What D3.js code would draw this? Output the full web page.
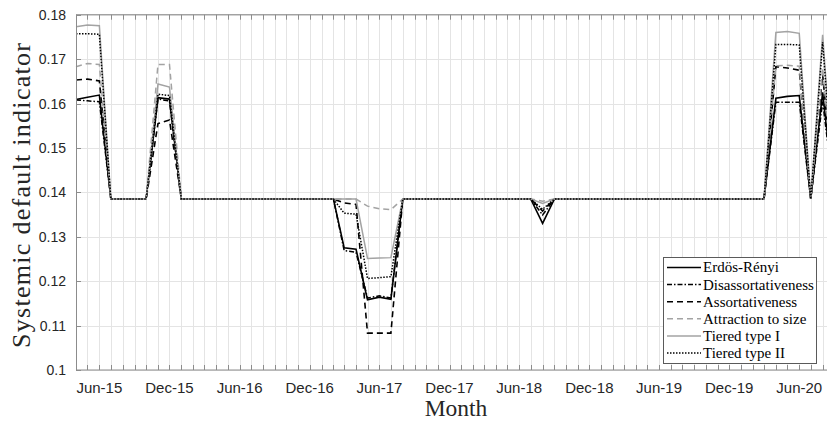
<!DOCTYPE html>
<html>
<head>
<meta charset="utf-8">
<script src="https://cdn.jsdelivr.net/npm/d3@7"></script>
<style>
  body { margin: 0; background: #fff; }
  svg { display: block; }
</style>
</head>
<body>
<svg id="chart" width="827" height="421"></svg>
<script>
// Monthly observation dates (first day of each month)
const months = [
  "2015-04","2015-05","2015-06","2015-07","2015-08","2015-09","2015-10","2015-11","2015-12",
  "2016-01","2016-02","2016-03","2016-04","2016-05","2016-06","2016-07","2016-08","2016-09","2016-10","2016-11","2016-12",
  "2017-01","2017-02","2017-03","2017-04","2017-05","2017-06","2017-07","2017-08","2017-09","2017-10","2017-11","2017-12",
  "2018-01","2018-02","2018-03","2018-04","2018-05","2018-06","2018-07","2018-08","2018-09","2018-10","2018-11","2018-12",
  "2019-01","2019-02","2019-03","2019-04","2019-05","2019-06","2019-07","2019-08","2019-09","2019-10","2019-11","2019-12",
  "2020-01","2020-02","2020-03","2020-04","2020-05","2020-06","2020-07","2020-08","2020-09"
];

// Systemic default indicator per network topology
const erdosRenyi = [
  0.1609,0.1614,0.1619,0.1385,0.1385,0.1385,0.1385,0.1613,0.1610,
  0.1385,0.1385,0.1385,0.1385,0.1385,0.1385,0.1385,0.1385,0.1385,0.1385,0.1385,0.1385,
  0.1385,0.1385,0.1275,0.1272,0.1158,0.1164,0.1159,0.1385,0.1385,0.1385,0.1385,0.1385,
  0.1385,0.1385,0.1385,0.1385,0.1385,0.1385,0.1385,0.1330,0.1385,0.1385,0.1385,0.1385,
  0.1385,0.1385,0.1385,0.1385,0.1385,0.1385,0.1385,0.1385,0.1385,0.1385,0.1385,0.1385,
  0.1385,0.1385,0.1385,0.1612,0.1616,0.1618,0.1385,0.1625,0.1385
];
const disassortativeness = [
  0.1608,0.1606,0.1604,0.1385,0.1385,0.1385,0.1385,0.1610,0.1606,
  0.1385,0.1385,0.1385,0.1385,0.1385,0.1385,0.1385,0.1385,0.1385,0.1385,0.1385,0.1385,
  0.1385,0.1385,0.1269,0.1265,0.1162,0.1167,0.1162,0.1385,0.1385,0.1385,0.1385,0.1385,
  0.1385,0.1385,0.1385,0.1385,0.1385,0.1385,0.1385,0.1349,0.1385,0.1385,0.1385,0.1385,
  0.1385,0.1385,0.1385,0.1385,0.1385,0.1385,0.1385,0.1385,0.1385,0.1385,0.1385,0.1385,
  0.1385,0.1385,0.1385,0.1603,0.1603,0.1603,0.1385,0.1605,0.1385
];
const assortativeness = [
  0.1653,0.1655,0.1651,0.1385,0.1385,0.1385,0.1385,0.1555,0.1563,
  0.1385,0.1385,0.1385,0.1385,0.1385,0.1385,0.1385,0.1385,0.1385,0.1385,0.1385,0.1385,
  0.1385,0.1385,0.1376,0.1373,0.1083,0.1083,0.1083,0.1385,0.1385,0.1385,0.1385,0.1385,
  0.1385,0.1385,0.1385,0.1385,0.1385,0.1385,0.1385,0.1358,0.1385,0.1385,0.1385,0.1385,
  0.1385,0.1385,0.1385,0.1385,0.1385,0.1385,0.1385,0.1385,0.1385,0.1385,0.1385,0.1385,
  0.1385,0.1385,0.1385,0.1683,0.1680,0.1675,0.1385,0.1665,0.1385
];
const attractionToSize = [
  0.1683,0.1690,0.1688,0.1385,0.1385,0.1385,0.1385,0.1688,0.1688,
  0.1385,0.1385,0.1385,0.1385,0.1385,0.1385,0.1385,0.1385,0.1385,0.1385,0.1385,0.1385,
  0.1385,0.1385,0.1385,0.1385,0.1369,0.1363,0.1361,0.1385,0.1385,0.1385,0.1385,0.1385,
  0.1385,0.1385,0.1385,0.1385,0.1385,0.1385,0.1385,0.1380,0.1385,0.1385,0.1385,0.1385,
  0.1385,0.1385,0.1385,0.1385,0.1385,0.1385,0.1385,0.1385,0.1385,0.1385,0.1385,0.1385,
  0.1385,0.1385,0.1385,0.1685,0.1686,0.1684,0.1385,0.1680,0.1385
];
const tieredTypeI = [
  0.1773,0.1777,0.1775,0.1385,0.1385,0.1385,0.1385,0.1644,0.1637,
  0.1385,0.1385,0.1385,0.1385,0.1385,0.1385,0.1385,0.1385,0.1385,0.1385,0.1385,0.1385,
  0.1385,0.1385,0.1385,0.1385,0.1251,0.1252,0.1253,0.1385,0.1385,0.1385,0.1385,0.1385,
  0.1385,0.1385,0.1385,0.1385,0.1385,0.1385,0.1385,0.1375,0.1385,0.1385,0.1385,0.1385,
  0.1385,0.1385,0.1385,0.1385,0.1385,0.1385,0.1385,0.1385,0.1385,0.1385,0.1385,0.1385,
  0.1385,0.1385,0.1385,0.1760,0.1762,0.1758,0.1385,0.1755,0.1385
];
const tieredTypeII = [
  0.1757,0.1757,0.1756,0.1385,0.1385,0.1385,0.1385,0.1621,0.1618,
  0.1385,0.1385,0.1385,0.1385,0.1385,0.1385,0.1385,0.1385,0.1385,0.1385,0.1385,0.1385,
  0.1385,0.1385,0.1353,0.1351,0.1206,0.1208,0.1210,0.1385,0.1385,0.1385,0.1385,0.1385,
  0.1385,0.1385,0.1385,0.1385,0.1385,0.1385,0.1385,0.1362,0.1385,0.1385,0.1385,0.1385,
  0.1385,0.1385,0.1385,0.1385,0.1385,0.1385,0.1385,0.1385,0.1385,0.1385,0.1385,0.1385,
  0.1385,0.1385,0.1385,0.1733,0.1733,0.1732,0.1385,0.1738,0.1385
];

const seriesNames = ["Erdös-Rényi", "Disassortativeness", "Assortativeness",
                     "Attraction to size", "Tiered type I", "Tiered type II"];
const seriesValues = [erdosRenyi, disassortativeness, assortativeness,
                      attractionToSize, tieredTypeI, tieredTypeII];

const yTicks = [0.10, 0.11, 0.12, 0.13, 0.14, 0.15, 0.16, 0.17, 0.18];
const yTickLabels = ["0.1", "0.11", "0.12", "0.13", "0.14", "0.15", "0.16", "0.17", "0.18"];
const xTickLabels = ["Jun-15", "Dec-15", "Jun-16", "Dec-16", "Jun-17", "Dec-17",
                     "Jun-18", "Dec-18", "Jun-19", "Dec-19", "Jun-20"];

// Line styling per series
const styles = [
  { color: "#000000", width: 1.6, dash: null },
  { color: "#000000", width: 1.5, dash: "5,2,1.5,2" },
  { color: "#000000", width: 1.6, dash: "6,4" },
  { color: "#a3a3a3", width: 1.5, dash: "6,4" },
  { color: "#a3a3a3", width: 1.5, dash: null },
  { color: "#000000", width: 1.5, dash: "1.5,1.5" }
];

const parse = d3.timeParse("%Y-%m");
const dates = months.map(parse);
const margin = { left: 76, top: 14.7, bottom: 370 };
const plotRight = 834.5;

const x = d3.scaleTime()
  .domain([dates[0], dates[dates.length - 1]])
  .range([margin.left, plotRight]);
const y = d3.scaleLinear()
  .domain([0.10, 0.18])
  .range([margin.bottom, margin.top]);

const svg = d3.select("#chart");
const monthTicks = d3.timeMonth.range(dates[0], d3.timeMonth.offset(dates[dates.length - 1], 1));
const fmt = d3.timeFormat("%b-%y");

// Grid
const grid = svg.append("g").attr("stroke", "#e4e4e4").attr("stroke-width", 1);
grid.selectAll("line.v").data(monthTicks).join("line")
  .attr("x1", d => Math.round(x(d)) + 0.5).attr("x2", d => Math.round(x(d)) + 0.5)
  .attr("y1", margin.top).attr("y2", margin.bottom);
grid.selectAll("line.h").data(yTicks).join("line")
  .attr("x1", margin.left).attr("x2", plotRight)
  .attr("y1", d => Math.round(y(d)) + 0.5).attr("y2", d => Math.round(y(d)) + 0.5);

// Series lines
const line = d3.line()
  .x((d, i) => x(dates[i]))
  .y(d => y(d));

svg.append("g").selectAll("path").data(seriesValues).join("path")
  .attr("d", d => line(d))
  .attr("fill", "none")
  .attr("stroke", (d, i) => styles[i].color)
  .attr("stroke-width", (d, i) => styles[i].width)
  .attr("stroke-dasharray", (d, i) => styles[i].dash)
  .attr("stroke-linejoin", "miter");

// Frame and inward ticks
const frameColor = "#8c8c8c";
const frame = svg.append("g").attr("stroke", frameColor).attr("stroke-width", 1).attr("fill", "none");
frame.append("rect")
  .attr("x", margin.left + 0.5).attr("y", margin.top)
  .attr("width", plotRight - margin.left).attr("height", margin.bottom - margin.top);
frame.selectAll("line.bt").data(monthTicks).join("line")
  .attr("x1", d => Math.round(x(d)) + 0.5).attr("x2", d => Math.round(x(d)) + 0.5)
  .attr("y1", margin.bottom).attr("y2", margin.bottom - 5);
frame.selectAll("line.tt").data(monthTicks).join("line")
  .attr("x1", d => Math.round(x(d)) + 0.5).attr("x2", d => Math.round(x(d)) + 0.5)
  .attr("y1", margin.top).attr("y2", margin.top + 5);
frame.selectAll("line.yt").data(yTicks).join("line")
  .attr("x1", margin.left).attr("x2", margin.left + 5)
  .attr("y1", d => Math.round(y(d)) + 0.5).attr("y2", d => Math.round(y(d)) + 0.5);

// Tick labels
const labelled = monthTicks.filter(d => xTickLabels.includes(fmt(d)));
svg.append("g").selectAll("text").data(labelled).join("text")
  .attr("x", d => x(d)).attr("y", 392.5)
  .attr("text-anchor", "middle")
  .attr("font-family", "'Liberation Sans', Arial, sans-serif")
  .attr("font-size", 15).attr("fill", "#262626")
  .text(d => fmt(d));

svg.append("g").selectAll("text").data(yTicks).join("text")
  .attr("x", 66).attr("y", d => y(d))
  .attr("dy", "0.36em")
  .attr("text-anchor", "end")
  .attr("font-family", "'Liberation Sans', Arial, sans-serif")
  .attr("font-size", 14).attr("fill", "#262626")
  .text((d, i) => yTickLabels[i]);

// Axis titles
svg.append("text")
  .attr("transform", "translate(30,195.5) rotate(-90)")
  .attr("text-anchor", "middle")
  .attr("font-family", "'Liberation Serif', 'Times New Roman', serif")
  .attr("font-size", 26).attr("fill", "#262626")
  .attr("textLength", 305).attr("lengthAdjust", "spacing")
  .text("Systemic default indicator");

svg.append("text")
  .attr("x", 456).attr("y", 416)
  .attr("text-anchor", "middle")
  .attr("font-family", "'Liberation Serif', 'Times New Roman', serif")
  .attr("font-size", 23.5).attr("fill", "#262626")
  .text("Month");

// Legend
const lg = svg.append("g");
lg.append("rect")
  .attr("x", 663.5).attr("y", 257.5).attr("width", 153).attr("height", 106)
  .attr("fill", "#fff").attr("stroke", "#5a5a5a").attr("stroke-width", 1);
const rows = lg.selectAll("g.row").data(seriesNames).join("g")
  .attr("transform", (d, i) => `translate(0,${267.5 + i * 17.1})`);
rows.append("line")
  .attr("x1", 667).attr("x2", 701).attr("y1", 0).attr("y2", 0)
  .attr("stroke", (d, i) => styles[i].color)
  .attr("stroke-width", (d, i) => styles[i].width)
  .attr("stroke-dasharray", (d, i) => styles[i].dash);
rows.append("text")
  .attr("x", 703).attr("y", 0).attr("dy", "0.33em")
  .attr("font-family", "'Liberation Serif', 'Times New Roman', serif")
  .attr("font-size", 15).attr("fill", "#000")
  .text(d => d);
</script>
</body>
</html>
